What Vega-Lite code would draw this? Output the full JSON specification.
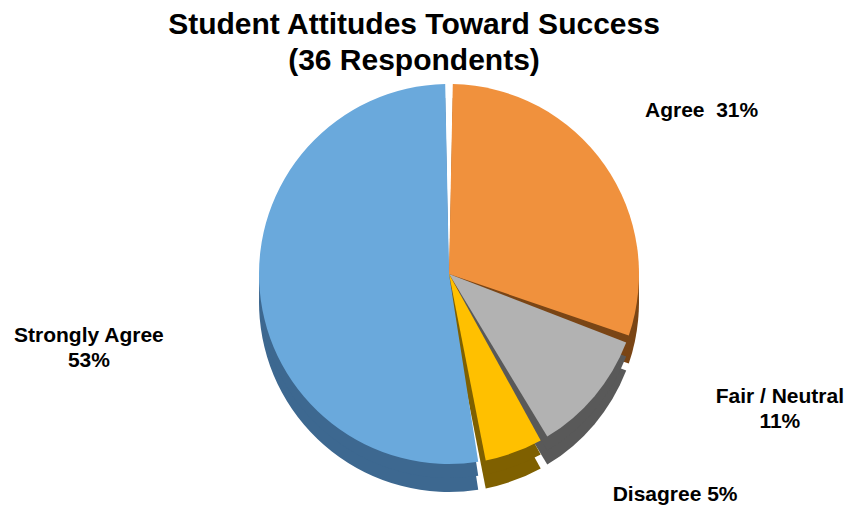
{
  "$schema": "https://vega.github.io/schema/vega-lite/v6.json",
  "width": 800,
  "height": 388,
  "autosize": {"type": "none"},
  "padding": {"top": 80, "left": 49, "right": 0, "bottom": 40},
  "background": "white",
  "view": {"stroke": null},
  "title": {
    "text": ["Student Attitudes Toward Success", "(36 Respondents)"],
    "font": "Liberation Sans",
    "fontSize": 30,
    "fontWeight": "bold",
    "color": "black",
    "anchor": "middle",
    "lineHeight": 36,
    "offset": 4,
    "dx": -35
  },
  "data": {
    "values": [
      {"response": "Agree", "rank": 1, "count": 11, "label": "Agree \u00a031%"},
      {"response": "Fair / Neutral", "rank": 2, "count": 4, "label": "Fair / Neutral\n11%"},
      {"response": "Disagree", "rank": 3, "count": 2, "label": "Disagree 5%"},
      {"response": "Strongly Agree", "rank": 4, "count": 19, "label": "Strongly Agree\n53%"}
    ]
  },
  "encoding": {
    "theta": {"field": "count", "type": "quantitative", "stack": true},
    "order": {"field": "rank", "type": "quantitative"}
  },
  "layer": [
    {
      "mark": {"type": "arc", "radius": 190, "yOffset": 28, "padAngle": 0.04},
      "encoding": {
        "color": {
          "field": "response",
          "type": "nominal",
          "scale": {"domain": ["Agree", "Fair / Neutral", "Disagree", "Strongly Agree"], "range": ["#7A4515", "#595959", "#7F6000", "#3D6890"]},
          "legend": null
        }
      }
    },
    {
      "mark": {"type": "arc", "radius": 190, "yOffset": 14, "padAngle": 0.04},
      "encoding": {
        "color": {
          "field": "response",
          "type": "nominal",
          "scale": {"domain": ["Agree", "Fair / Neutral", "Disagree", "Strongly Agree"], "range": ["#7A4515", "#595959", "#7F6000", "#3D6890"]},
          "legend": null
        }
      }
    },
    {
      "mark": {"type": "arc", "radius": 190, "padAngle": 0.04},
      "encoding": {
        "color": {
          "field": "response",
          "type": "nominal",
          "scale": {"domain": ["Agree", "Fair / Neutral", "Disagree", "Strongly Agree"], "range": ["#F0913D", "#B2B2B2", "#FFC000", "#6AA9DC"]},
          "legend": null
        }
      }
    },
    {
      "mark": {"type": "text", "radius": 240, "dx": 56, "dy": -25, "font": "Liberation Sans", "fontSize": 21, "fontWeight": "bold", "color": "black", "lineBreak": "\n", "lineHeight": 25},
      "encoding": {"text": {"condition": {"test": "datum.response === 'Agree'", "field": "label"}, "value": ""}}
    },
    {
      "mark": {"type": "text", "radius": 240, "dx": 147, "dy": -31, "font": "Liberation Sans", "fontSize": 21, "fontWeight": "bold", "color": "black", "lineBreak": "\n", "lineHeight": 25},
      "encoding": {"text": {"condition": {"test": "datum.response === 'Fair / Neutral'", "field": "label"}, "value": ""}}
    },
    {
      "mark": {"type": "text", "radius": 240, "dx": 144, "dy": -5, "font": "Liberation Sans", "fontSize": 21, "fontWeight": "bold", "color": "black", "lineBreak": "\n", "lineHeight": 25},
      "encoding": {"text": {"condition": {"test": "datum.response === 'Disagree'", "field": "label"}, "value": ""}}
    },
    {
      "mark": {"type": "text", "radius": 240, "dx": -121, "dy": 41, "font": "Liberation Sans", "fontSize": 21, "fontWeight": "bold", "color": "black", "lineBreak": "\n", "lineHeight": 25},
      "encoding": {"text": {"condition": {"test": "datum.response === 'Strongly Agree'", "field": "label"}, "value": ""}}
    }
  ],
  "resolve": {"scale": {"color": "independent"}}
}
